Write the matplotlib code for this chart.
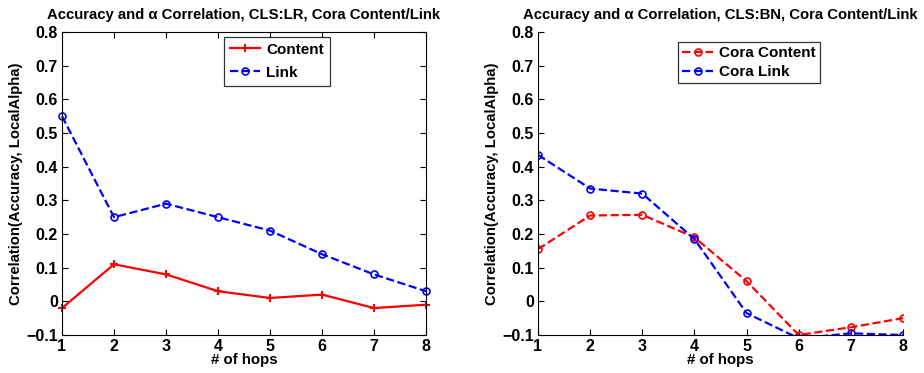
import numpy as np
import matplotlib.pyplot as plt

plt.rcParams['font.family'] = ['Liberation Sans', 'DejaVu Sans']
plt.rcParams['font.weight'] = 'bold'

hops = [1, 2, 3, 4, 5, 6, 7, 8]

lr_content = [-0.02, 0.11, 0.08, 0.03, 0.01, 0.02, -0.02, -0.01]
lr_link = [0.55, 0.25, 0.29, 0.25, 0.21, 0.14, 0.08, 0.03]

bn_content = [0.155, 0.255, 0.257, 0.19, 0.06, -0.10, -0.077, -0.05]
bn_link = [0.435, 0.335, 0.32, 0.185, -0.035, -0.11, -0.095, -0.10]

yticks = [-0.1, 0, 0.1, 0.2, 0.3, 0.4, 0.5, 0.6, 0.7, 0.8]
ytick_labels = ['\u22120.1', '0', '0.1', '0.2', '0.3', '0.4', '0.5', '0.6', '0.7', '0.8']

fig = plt.figure(figsize=(9.24, 3.73), dpi=100)
ax1 = fig.add_axes([62 / 924, 38 / 373, 364 / 924, 303 / 373])
ax2 = fig.add_axes([538 / 924, 38 / 373, 365 / 924, 303 / 373])


def style_axes(ax, title, box):
    ax.set_xlim(1, 8)
    ax.set_ylim(-0.1, 0.8)
    ax.set_xticks(hops)
    ax.set_yticks(yticks)
    ax.set_yticklabels(ytick_labels)
    ax.tick_params(direction='in', labelsize=11.5, length=4, width=0.8,
                   top=box, right=box, pad=3)
    for lab in ax.get_xticklabels() + ax.get_yticklabels():
        lab.set_fontweight('bold')
    for side in ['top', 'right']:
        ax.spines[side].set_visible(box)
    for sp in ax.spines.values():
        sp.set_linewidth(0.8)
    ax.set_title(title, fontsize=10.7, fontweight='bold', pad=9)
    ax.set_xlabel('# of hops', fontsize=10.8, fontweight='bold', labelpad=-1)
    ax.set_ylabel('Correlation(Accuracy, LocalAlpha)', fontsize=10.7,
                  fontweight='bold', labelpad=2)


ax1.plot(hops, lr_content, '-', color='red', lw=1.6, marker='+', ms=6,
         mew=1.5, label='Content', clip_on=False)
ax1.plot(hops, lr_link, '--', color='blue', lw=1.6, marker='o', ms=5,
         mfc='none', mew=1.2, label='Link', clip_on=False)
style_axes(ax1, 'Accuracy and \u03b1 Correlation, CLS:LR, Cora Content/Link', True)
leg1 = ax1.legend(loc='upper center', bbox_to_anchor=(0.59, 0.985), fontsize=11,
                  frameon=True, fancybox=False, edgecolor='black', handlelength=2.0,
                  borderpad=0.4, labelspacing=0.6, handletextpad=0.4,
                  borderaxespad=0)
leg1.get_frame().set_linewidth(0.9)

ax2.plot(hops, bn_content, '--', color='red', lw=1.6, marker='o', ms=5,
         mfc='none', mew=1.2, label='Cora Content')
ax2.plot(hops, bn_link, '--', color='blue', lw=1.6, marker='o', ms=5,
         mfc='none', mew=1.2, label='Cora Link')
style_axes(ax2, 'Accuracy and \u03b1 Correlation, CLS:BN, Cora Content/Link', False)
leg2 = ax2.legend(loc='upper center', bbox_to_anchor=(0.578, 0.968), fontsize=11,
                  frameon=True, fancybox=False, edgecolor='black', handlelength=2.0,
                  borderpad=0.3, labelspacing=0.3, handletextpad=0.4,
                  borderaxespad=0)
leg2.get_frame().set_linewidth(0.9)

fig.savefig('out.png', dpi=100)
